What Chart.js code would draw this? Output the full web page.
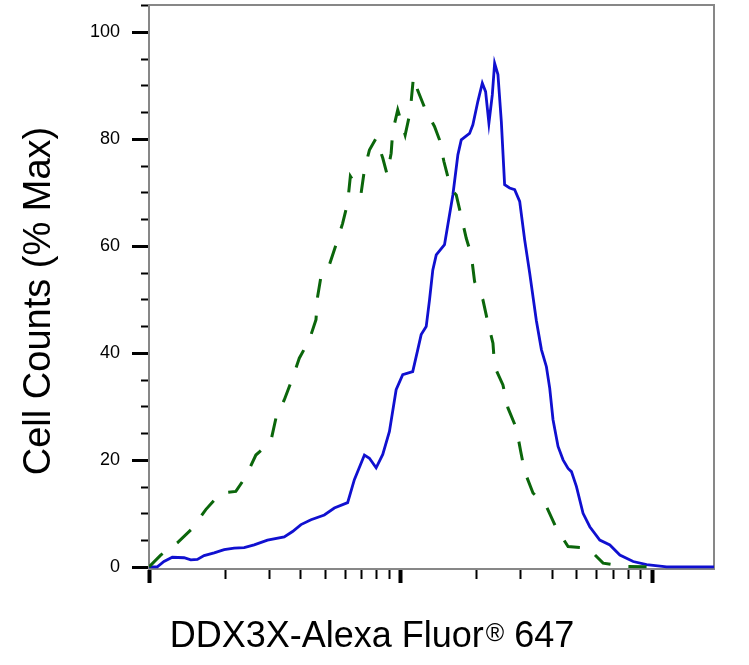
<!DOCTYPE html>
<html>
<head>
<meta charset="utf-8">
<title>DDX3X - Alexa Fluor 647</title>
<script src="https://cdn.jsdelivr.net/npm/chart.js@4.4.1/dist/chart.umd.min.js"></script>
<style>
  html, body { margin: 0; padding: 0; background: #fff; }
  #wrap { width: 749px; height: 665px; }
</style>
</head>
<body>
<div id="wrap"><canvas id="histograma" width="749" height="665"></canvas></div>
<script>
// Canal de fluorescencia (escala log) y % del máximo
const teñidoX = [10, 10.79, 11.47, 12.38, 13.79, 14.66, 15.57, 16.56, 18.16, 19.90,
  21.81, 23.90, 26.20, 29.60, 34.50, 37.23, 40.22, 44.09, 49.80, 54.58,
  61.66, 65.57, 71.90, 75.27, 80.05, 85.04, 90.41, 96.14, 102.1, 111.9,
  117.2, 120.9, 126.6, 130.5, 134.5, 138.8, 149.7, 154.3, 161.6, 169.2,
  174.5, 188.3, 194.1, 203.2, 211.6, 218.1, 224.8, 231.9, 236.9, 244.2,
  251.9, 259.6, 271.8, 284.6, 298.0, 311.9, 326.6, 347.2, 363.6, 380.6,
  392.3, 404.4, 423.4, 443.3, 464.1, 478.7, 501.2, 532.4, 566.2, 620.5,
  680.5, 745.7, 842.5, 952.6, 1144, 1766];
const teñidoY = [0, 0, 1.0, 1.8, 1.7, 1.3, 1.4, 2.1, 2.6, 3.2,
  3.5, 3.6, 4.1, 5.0, 5.6, 6.6, 7.9, 8.8, 9.7, 11.0,
  12.0, 16.3, 20.9, 20.3, 18.5, 21.0, 25.3, 33.1, 35.9, 36.5,
  40.6, 43.4, 44.9, 49.9, 55.5, 58.3, 60.2, 63.9, 69.5, 77.0,
  79.8, 81.0, 82.6, 87.0, 90.4, 88.8, 82.9, 88.2, 94.1, 92.0,
  83.2, 71.4, 70.8, 70.5, 68.3, 61.1, 54.9, 46.0, 40.6, 37.4,
  33.4, 27.5, 22.5, 20.0, 18.4, 17.8, 15.0, 10.0, 7.5, 5.0,
  4.1, 2.2, 1.0, 0.4, 0, 0];

// Control de isotipo (línea discontinua verde)
const controlX = [10, 11.13, 12.96, 14.88, 16.82, 19.31, 22.15, 24.29, 26.61, 30.49,
  31.98, 34.50, 37.23, 39.60, 43.40, 46.14, 46.83, 48.31, 52.13, 55.43,
  58.89, 61.66, 63.21, 69.74, 71.90, 75.27, 80.05, 85.04, 88.51, 91.83,
  93.19, 97.55, 104.4, 109.3, 112.7, 117.2, 125.8, 136.6, 143.0, 148.8,
  154.3, 161.6, 166.7, 174.5, 182.7, 191.3, 197.2, 212.8, 222.8, 233.3,
  236.9, 255.6, 267.6, 289.1, 300.7, 311.9, 336.6, 380.6, 417.2, 464.1,
  557.5, 639.7, 768.6, 952.6];
const controlY = [0, 2.2, 4.5, 7.2, 10.7, 13.8, 14.1, 16.9, 20.9, 23.4,
  27.8, 31.2, 35.3, 39.0, 42.4, 46.2, 50.5, 54.3, 56.4, 60.2,
  64.2, 68.0, 73.0, 69.8, 74.2, 77.9, 80.1, 76.4, 73.3, 77.3,
  81.4, 85.4, 80.7, 85.0, 91.6, 89.0, 85.4, 82.3, 79.8, 75.8,
  72.9, 70.2, 69.5, 65.5, 61.4, 58.3, 53.3, 49.9, 45.6, 41.8,
  37.4, 34.0, 29.7, 25.9, 21.6, 17.8, 13.8, 11.3, 7.2, 3.8,
  3.5, 0.7, 0.1, 0];

const yTicks = [0, 20, 40, 60, 80, 100];
const xDecadas = [10, 100, 1000];
const xMin = 10, xMax = 1766;
const yMin = -0.4, yMax = 105;

const tituloX = ['DDX3X-Alexa Fluor', '®', ' 647'];
const tituloY = 'Cell Counts (% Max)';

const FUENTE = '"Liberation Sans", Arial, sans-serif';

// Marco gris, marcas de los ejes y títulos
const ejesPlugin = {
  id: 'ejes',
  beforeDatasetsDraw(chart) {
    const { ctx, chartArea: a } = chart;
    ctx.save();
    ctx.strokeStyle = '#878787';
    ctx.lineWidth = 2;
    ctx.strokeRect(a.left, a.top, a.right - a.left, a.bottom - a.top);
    ctx.restore();
  },
  afterDraw(chart) {
    const { ctx, chartArea: a, scales: { x, y } } = chart;
    ctx.save();
    ctx.strokeStyle = '#000';

    // marcas del eje Y cada 5, largas cada 20
    for (let v = 0; v <= yMax; v += 5) {
      const py = Math.round(y.getPixelForValue(v)) + 0.5;
      const mayor = v % 20 === 0;
      ctx.lineWidth = mayor ? 3 : 2;
      ctx.beginPath();
      ctx.moveTo(a.left - (mayor ? 17 : 8), py);
      ctx.lineTo(a.left - 1, py);
      ctx.stroke();
    }

    // marcas del eje X (décadas y subdivisiones 2..9)
    xDecadas.forEach(d => {
      for (let m = 1; m <= 9; m++) {
        const v = d * m;
        if (v > xMax) break;
        const px = Math.round(x.getPixelForValue(v)) + 0.5;
        const mayor = m === 1;
        ctx.lineWidth = mayor ? 4 : 2;
        ctx.beginPath();
        ctx.moveTo(px, a.bottom + 1);
        ctx.lineTo(px, a.bottom + (mayor ? 14 : 10));
        ctx.stroke();
      }
    });

    ctx.fillStyle = '#000';

    // título del eje Y
    ctx.save();
    ctx.font = '38px ' + FUENTE;
    ctx.translate(50, 301);
    ctx.rotate(-Math.PI / 2);
    ctx.textAlign = 'center';
    ctx.textBaseline = 'alphabetic';
    ctx.fillText(tituloY, 0, 0);
    ctx.restore();

    // título del eje X con ® en superíndice
    ctx.textAlign = 'left';
    ctx.textBaseline = 'alphabetic';
    const grande = '36px ' + FUENTE, chica = '25px ' + FUENTE;
    ctx.font = grande;
    const w1 = ctx.measureText(tituloX[0]).width;
    const w3 = ctx.measureText(tituloX[2]).width;
    ctx.font = chica;
    const w2 = ctx.measureText(tituloX[1]).width;
    const total = w1 + 2 + w2 + w3;
    let px = 372 - total / 2;
    const base = 647;
    ctx.font = grande;
    ctx.fillText(tituloX[0], px, base);
    px += w1 + 2;
    ctx.font = chica;
    ctx.fillText(tituloX[1], px, base - 6);
    px += w2;
    ctx.font = grande;
    ctx.fillText(tituloX[2], px, base);

    ctx.restore();
  }
};

new Chart(document.getElementById('histograma'), {
  type: 'line',
  data: {
    datasets: [
      {
        label: 'Isotipo',
        data: controlX.map((v, i) => ({ x: v, y: controlY[i] })),
        borderColor: '#0b660b',
        borderWidth: 3,
        borderDash: [19, 18],
        pointRadius: 0,
        tension: 0
      },
      {
        label: 'DDX3X',
        data: teñidoX.map((v, i) => ({ x: v, y: teñidoY[i] })),
        borderColor: '#1010d0',
        borderWidth: 2.8,
        pointRadius: 0,
        tension: 0
      }
    ]
  },
  options: {
    responsive: false,
    animation: false,
    layout: { padding: { top: 5, right: 35, left: 0, bottom: 0 } },
    plugins: { legend: { display: false }, tooltip: { enabled: false } },
    scales: {
      x: {
        type: 'logarithmic',
        min: xMin,
        max: xMax,
        grid: { display: false, drawTicks: false },
        border: { display: false },
        ticks: { display: false },
        afterFit(s) { s.height = 96; s.paddingLeft = 0; s.paddingRight = 0; }
      },
      y: {
        min: yMin,
        max: yMax,
        grid: { display: false, drawTicks: false },
        border: { display: false },
        ticks: {
          padding: 29,
          color: '#000',
          font: { size: 18, family: FUENTE }
        },
        afterBuildTicks(s) { s.ticks = yTicks.map(v => ({ value: v })); },
        afterFit(s) { s.width = 149; s.paddingTop = 0; s.paddingBottom = 0; }
      }
    }
  },
  plugins: [ejesPlugin]
});
</script>
</body>
</html>
